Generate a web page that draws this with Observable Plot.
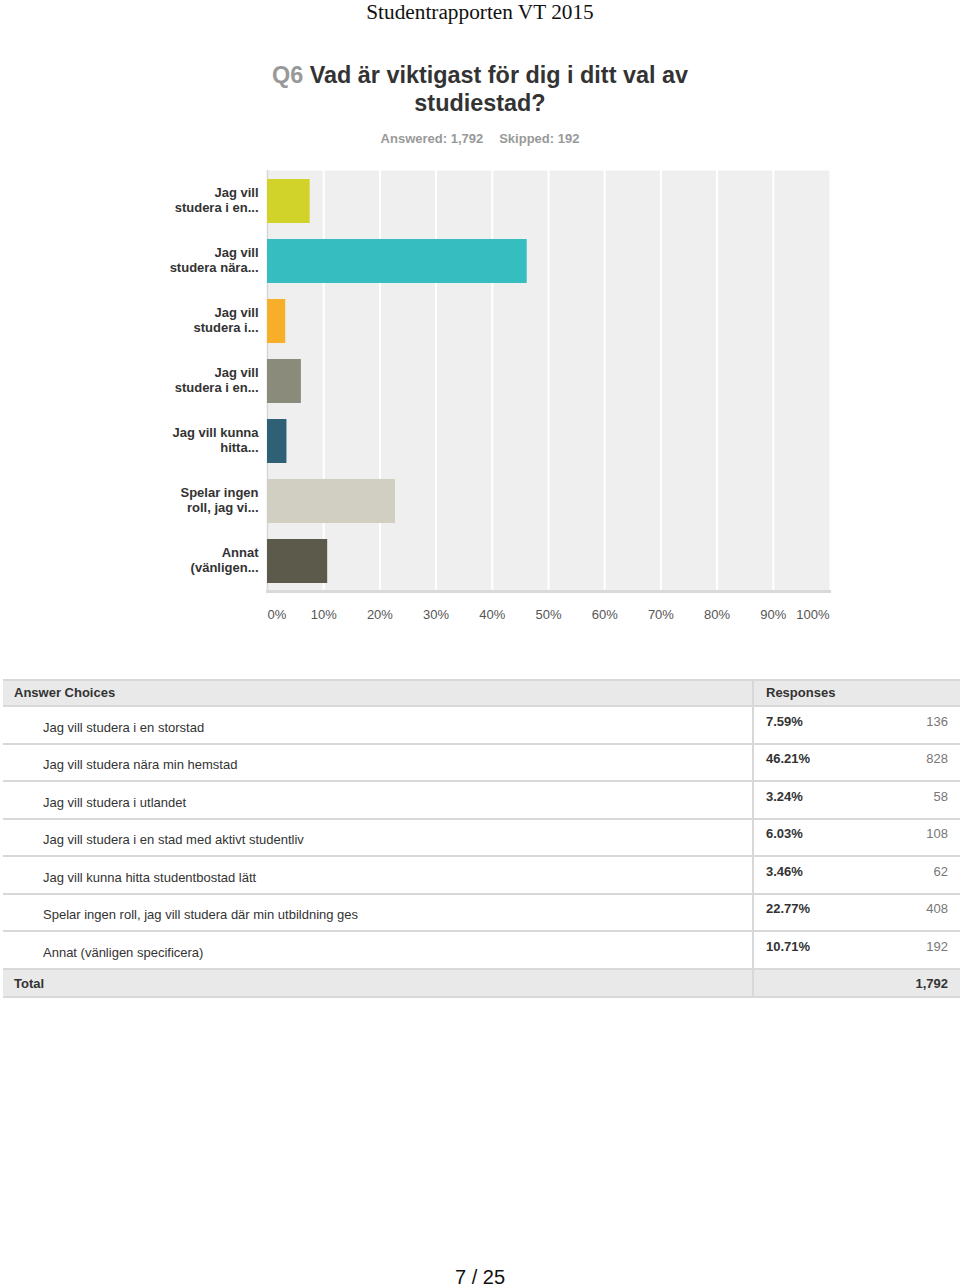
<!DOCTYPE html>
<html><head><meta charset="utf-8">
<script src="https://cdn.jsdelivr.net/npm/d3@7"></script>
<script src="https://cdn.jsdelivr.net/npm/@observablehq/plot@0.6"></script>
<style>
body{margin:0;background:#fff;font-family:"Liberation Sans",Arial,sans-serif;}
#page{position:relative;width:960px;height:1288px;overflow:hidden;background:#fff;}
.abs{position:absolute;white-space:nowrap;}
#doc{left:0;width:960px;top:0;text-align:center;font-family:"Liberation Serif","Times New Roman",serif;font-size:21.3px;line-height:24px;color:#111;}
#title{left:0;width:960px;top:61px;text-align:center;font-weight:bold;font-size:23.4px;line-height:28px;color:#333;}
#title .q{color:#999;}
#meta{left:0;width:960px;top:131px;text-align:center;font-weight:bold;font-size:13px;line-height:16px;color:#999;}
#chart{left:0;top:160px;}
#chart svg{display:block;}
.row{position:absolute;left:3px;width:957px;box-sizing:border-box;}
.t{position:absolute;white-space:nowrap;font-size:13px;line-height:16px;}
#footer{left:0;width:960px;top:1265px;text-align:center;font-size:20px;line-height:24px;color:#111;}
</style></head>
<body><div id="page">
<div id="doc" class="abs">Studentrapporten VT 2015</div>
<div id="title" class="abs"></div>
<div id="meta" class="abs"></div>
<div id="chart" class="abs"></div>
<div id="footer" class="abs">7 / 25</div>
</div>
<script>
const questionNo = "Q6";
const questionLines = ["Vad är viktigast för dig i ditt val av", "studiestad?"];
const answered = "1,792";
const skipped = "192";
const choices = [
  "Jag vill studera i en storstad",
  "Jag vill studera nära min hemstad",
  "Jag vill studera i utlandet",
  "Jag vill studera i en stad med aktivt studentliv",
  "Jag vill kunna hitta studentbostad lätt",
  "Spelar ingen roll, jag vill studera där min utbildning ges",
  "Annat (vänligen specificera)"
];
const shortLabels = [
  "Jag vill\nstudera i en...",
  "Jag vill\nstudera nära...",
  "Jag vill\nstudera i...",
  "Jag vill\nstudera i en...",
  "Jag vill kunna\nhitta...",
  "Spelar ingen\nroll, jag vi...",
  "Annat\n(vänligen..."
];
const percents = [7.59, 46.21, 3.24, 6.03, 3.46, 22.77, 10.71];
const percentLabels = ["7.59%", "46.21%", "3.24%", "6.03%", "3.46%", "22.77%", "10.71%"];
const counts = ["136", "828", "58", "108", "62", "408", "192"];
const totalCount = "1,792";
const barColors = ["#d1d32b", "#36bdc0", "#f7ae28", "#8b8b7b", "#2e6175", "#d1cfc1", "#5c5a4b"];
const xTicks = [0, 10, 20, 30, 40, 50, 60, 70, 80, 90, 100];

document.getElementById("title").innerHTML =
  `<span class="q">${questionNo}</span> ${questionLines[0]}<br>${questionLines[1]}`;
document.getElementById("meta").innerHTML =
  `Answered: ${answered}<span style="display:inline-block;width:16px"></span>Skipped: ${skipped}`;

const data = choices.map((c, i) => ({choice: c, label: shortLabels[i], pct: percents[i]}));

const chart = Plot.plot({
  width: 960, height: 473,
  marginLeft: 267, marginRight: 131, marginTop: 10, marginBottom: 42,
  style: {fontFamily: "'Liberation Sans', Arial, sans-serif", fontSize: "13px", background: "transparent"},
  x: {domain: [0, 100], axis: null},
  y: {domain: choices, paddingInner: 0.273, paddingOuter: 0.113, axis: null},
  color: {domain: choices, range: barColors},
  marks: [
    Plot.frame({fill: "#efefef", stroke: "none"}),
    Plot.ruleX(xTicks.slice(1, -1), {stroke: "#ffffff", strokeWidth: 2}),
    Plot.ruleX([0], {stroke: "#d6d6d6", strokeWidth: 1.5}),
    Plot.barX(data, {x: "pct", y: "choice", fill: "choice"}),
    Plot.frame({anchor: "bottom", stroke: "#d9d9d9", strokeWidth: 3}),
    Plot.text(data, {y: "choice", text: "label", frameAnchor: "left", dx: -9, dy: -1.5, textAnchor: "end",
      fontWeight: "bold", fill: "#333", lineHeight: 1.15}),
    Plot.text(xTicks.slice(0, 1), {x: d => d, text: d => d + "%", frameAnchor: "bottom", dy: 23,
      lineAnchor: "middle", textAnchor: "start", fill: "#555"}),
    Plot.text(xTicks.slice(1, -1), {x: d => d, text: d => d + "%", frameAnchor: "bottom", dy: 23,
      lineAnchor: "middle", textAnchor: "middle", fill: "#555"}),
    Plot.text(xTicks.slice(-1), {x: d => d, text: d => d + "%", frameAnchor: "bottom", dy: 23,
      lineAnchor: "middle", textAnchor: "end", fill: "#555"})
  ]
});
document.getElementById("chart").appendChild(chart);

// table
const page = document.getElementById("page");
function addDiv(style, html, cls) {
  const d = document.createElement("div");
  d.className = cls || "t";
  d.setAttribute("style", style);
  if (html != null) d.innerHTML = html;
  page.appendChild(d);
  return d;
}
const lineCol = "#d8d8d8";
const headTop = 679, headH = 28, rowH = 37.5;
const rowsTop = headTop + headH;
const totalTop = rowsTop + rowH * choices.length;
addDiv(`top:${headTop}px;height:${headH}px;background:#e9e9e9;border-top:2px solid ${lineCol};border-bottom:2px solid ${lineCol};`, null, "row");
addDiv(`left:14px;top:${headTop + 6}px;font-weight:bold;color:#333;`, "Answer Choices");
addDiv(`left:766px;top:${headTop + 6}px;font-weight:bold;color:#333;`, "Responses");
choices.forEach((c, i) => {
  const top = rowsTop + rowH * i;
  addDiv(`top:${top}px;height:${rowH}px;border-bottom:2px solid ${lineCol};`, null, "row");
  addDiv(`left:43px;top:${top + 12.5}px;color:#333;`, c);
  addDiv(`left:766px;top:${top + 6.5}px;font-weight:bold;color:#333;`, percentLabels[i]);
  addDiv(`right:12px;top:${top + 6.5}px;color:#777;`, counts[i]);
});
addDiv(`top:${totalTop}px;height:${headH}px;background:#e9e9e9;border-bottom:2px solid ${lineCol};`, null, "row");
addDiv(`left:14px;top:${totalTop + 6}px;font-weight:bold;color:#333;`, "Total");
addDiv(`right:12px;top:${totalTop + 6}px;font-weight:bold;color:#333;`, totalCount);
addDiv(`left:752px;top:${headTop}px;width:2px;height:${totalTop + headH - headTop}px;background:${lineCol};`, null, "row");
</script>
</body></html>
